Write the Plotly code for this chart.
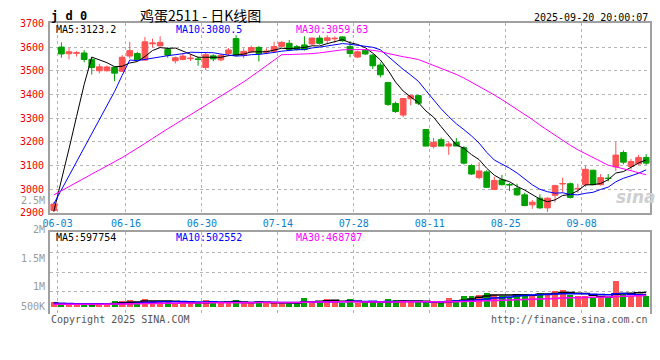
import plotly.graph_objects as go
import pandas as pd

# ---------------- data ----------------
dates = pd.bdate_range("2025-06-03", "2025-09-19").strftime("%m-%d").tolist()

opens = [2910, 3600, 3572, 3574, 3575, 3548, 3500, 3500, 3514, 3498,
         3562, 3573, 3545, 3614, 3605, 3590, 3542, 3548, 3551, 3550,
         3514, 3563, 3546, 3573, 3636, 3565, 3580, 3598, 3578, 3582,
         3603, 3616, 3602, 3609, 3613, 3638, 3628, 3635, 3643, 3602,
         3558, 3585, 3566, 3524, 3450, 3362, 3313, 3382, 3395, 3252,
         3180, 3209, 3182, 3198, 3175, 3100, 3049, 3073, 2999, 3039,
         3020, 3003, 2976, 2934, 2962, 2921, 2974, 3022, 3023, 3001,
         3019, 3080, 3019, 3047, 3094, 3155, 3096, 3107, 3134]
highs = [2945, 3620, 3596, 3583, 3587, 3557, 3530, 3522, 3518, 3566,
         3622, 3580, 3643, 3636, 3646, 3600, 3560, 3575, 3569, 3560,
         3575, 3570, 3570, 3596, 3650, 3595, 3606, 3605, 3595, 3623,
         3625, 3630, 3609, 3646, 3641, 3650, 3650, 3645, 3646, 3625,
         3585, 3592, 3570, 3535, 3453, 3370, 3385, 3400, 3398, 3252,
         3216, 3218, 3202, 3216, 3182, 3105, 3114, 3080, 3053, 3060,
         3026, 3023, 2985, 2955, 2978, 2965, 3019, 3049, 3028, 3023,
         3100, 3082, 3064, 3064, 3199, 3164, 3128, 3145, 3148]
lows = [2905, 3555, 3548, 3560, 3536, 3484, 3489, 3497, 3456, 3495,
        3552, 3543, 3542, 3598, 3603, 3555, 3531, 3544, 3541, 3521,
        3503, 3540, 3540, 3563, 3560, 3553, 3575, 3539, 3570, 3575,
        3598, 3583, 3585, 3585, 3610, 3610, 3612, 3618, 3622, 3557,
        3553, 3566, 3507, 3472, 3352, 3322, 3304, 3354, 3355, 3182,
        3172, 3182, 3145, 3182, 3105, 3060, 3042, 3006, 2996, 3015,
        2992, 2972, 2928, 2917, 2917, 2904, 2945, 2985, 2961, 2985,
        3010, 3017, 3015, 3033, 3077, 3105, 3083, 3103, 3103]
closes = [2937, 3571, 3580, 3576, 3548, 3514, 3517, 3516, 3490, 3557,
          3585, 3546, 3622, 3617, 3620, 3566, 3555, 3562, 3553, 3548,
          3568, 3550, 3565, 3588, 3566, 3582, 3598, 3572, 3583, 3602,
          3620, 3589, 3590, 3590, 3638, 3616, 3639, 3637, 3627, 3573,
          3580, 3571, 3521, 3483, 3358, 3328, 3383, 3395, 3363, 3182,
          3198, 3182, 3191, 3182, 3110, 3064, 3077, 3008, 3037, 3019,
          3018, 2976, 2931, 2945, 2921, 2962, 3015, 3024, 2965, 3003,
          3084, 3019, 3049, 3045, 3144, 3114, 3117, 3134, 3110]
volumes = [197000, 90000, 92000, 88000, 91000, 157000, 158000, 90000, 236000, 238000,
           275000, 197000, 314000, 236000, 235000, 237000, 157000, 156000, 158000, 157000,
           275000, 236000, 157000, 197000, 275000, 157000, 158000, 236000, 157000, 156000,
           157000, 197000, 158000, 354000, 236000, 237000, 314000, 236000, 157000, 314000,
           157000, 158000, 236000, 157000, 314000, 275000, 276000, 197000, 196000, 236000,
           157000, 158000, 354000, 275000, 432000, 433000, 511000, 590000, 511000, 432000,
           431000, 550000, 551000, 472000, 590000, 511000, 668000, 707000, 511000, 432000,
           433000, 354000, 432000, 354000, 1061000, 550000, 432000, 511000, 432000]

# closes / volumes of the sessions just before the window (only feed the moving averages)
prior_closes = [3030, 3025, 3035, 3020, 3010, 3015, 3005, 2995, 3000, 2990,
                2985, 2992, 2980, 2975, 2983, 2970, 2978, 2965, 2972, 2961,
                2985, 2978, 2970, 2962, 2955, 2925, 2905, 2890, 2873]
prior_volumes = [95000, 102000, 88000, 110000, 97000, 91000, 105000, 99000, 93000, 101000,
                 96000, 104000, 90000, 98000, 100000, 94000, 103000, 97000, 99000, 107000,
                 150000, 158000, 146000, 155000, 149000, 160000, 152000, 147000, 156000]

tick_labels = ["06-03", "06-16", "06-30", "07-14", "07-28", "08-11", "08-25", "09-08"]
price_ticks = [2900, 3000, 3100, 3200, 3300, 3400, 3500, 3600, 3700]
vol_labels = ["2.5M", "2M", "1.5M", "1M", "500K"]

title_text = "鸡蛋2511 - 日K线图"
symbol_text = "j d 0"
stamp_text = "2025-09-20 20:00:07"
price_ma_text = ["MA5:3123.2", "MA10:3080.5", "MA30:3059.63"]
vol_ma_text = ["MA5:597754", "MA10:502552", "MA30:468787"]

# ---------------- styling ----------------
RED = "#ff5252"
GREEN = "#00a000"
MA_COLORS = ["#000000", "#0000ff", "#ff00ff"]
FRAME = "#a0a0a0"
GRID = "#b4b4b4"
MONO = "DejaVu Sans Mono"
W, H = 660, 360
L_PX, R_PX = 50, 650


def py(p):  # pixel row -> paper y
    return 1 - p / H


def px(p):  # pixel column -> paper x
    return (p - L_PX) / (R_PX - L_PX)


def moving_avg(prior, vals, n):
    allv = list(prior) + list(vals)
    off = len(prior)
    out = []
    for i in range(len(vals)):
        w = allv[off + i - n + 1: off + i + 1]
        out.append(sum(w) / len(w))
    return out


xs = list(range(len(dates)))
fig = go.Figure()

fig.add_trace(go.Candlestick(
    x=xs, open=opens, high=highs, low=lows, close=closes,
    increasing=dict(line=dict(color=RED, width=1), fillcolor=RED),
    decreasing=dict(line=dict(color=GREEN, width=1), fillcolor=GREEN),
    whiskerwidth=0, xaxis="x", yaxis="y", showlegend=False, hoverinfo="skip"))

for n, col in zip([5, 10, 30], MA_COLORS):
    fig.add_trace(go.Scatter(x=xs, y=moving_avg(prior_closes, closes, n), mode="lines",
                             line=dict(color=col, width=1), xaxis="x", yaxis="y",
                             showlegend=False, hoverinfo="skip"))

vol_colors = [RED if c >= o else GREEN for o, c in zip(opens, closes)]
fig.add_trace(go.Bar(x=xs, y=volumes, marker=dict(color=vol_colors, line=dict(width=0)),
                     width=0.78, xaxis="x2", yaxis="y2", showlegend=False, hoverinfo="skip"))
for n, col in zip([5, 10, 30], MA_COLORS):
    fig.add_trace(go.Scatter(x=xs, y=moving_avg(prior_volumes, volumes, n), mode="lines",
                             line=dict(color=col, width=1.5, shape="hvh"), xaxis="x2", yaxis="y2",
                             showlegend=False, hoverinfo="skip"))

tick_pos = [dates.index(t) + 0.5 for t in tick_labels]

# volume panel geometry (pixel rows)
V_TOP, V_BOT, V_BASE, V_PER_PX = 234.3, 319.0, 311.5, 39300.0
v_hi = (V_BASE - V_TOP) * V_PER_PX
v_lo = -(V_BOT - V_BASE) * V_PER_PX
v_grid = [(V_BASE - r) * V_PER_PX for r in (255.3, 275.3, 295.3)]

common_x = dict(range=[-0.5, len(xs) - 0.5], tickvals=tick_pos, showgrid=True,
                gridcolor=GRID, griddash="dot", gridwidth=1, zeroline=False, ticks="",
                fixedrange=True)

fig.update_layout(
    width=W, height=H, margin=dict(l=L_PX, r=W - R_PX, t=0, b=0),
    paper_bgcolor="white", plot_bgcolor="white", bargap=0, showlegend=False,
    boxgap=0.2, boxgroupgap=0.06,
    xaxis=dict(**common_x, domain=[0, 1], anchor="y", ticktext=tick_labels,
               tickfont=dict(family=MONO, size=10, color="#0a7fcf"),
               showline=True, mirror=True, linecolor=FRAME, linewidth=2,
               rangeslider=dict(visible=False)),
    yaxis=dict(domain=[py(214), py(18)], range=[price_ticks[0], price_ticks[-1]],
               tickvals=price_ticks, ticktext=[str(v) for v in price_ticks],
               tickfont=dict(family=MONO, size=10, color="#ee0000"),
               showgrid=True, gridcolor=GRID, griddash="dot", zeroline=False,
               showline=True, mirror=True, linecolor=FRAME, linewidth=2, ticks="",
               ticklabelstandoff=2, anchor="x"),
    xaxis2=dict(**common_x, domain=[0, 1], anchor="y2", matches="x", showticklabels=False,
                showline=True, side="top", linecolor=FRAME, linewidth=2),
    yaxis2=dict(domain=[py(V_BOT), py(V_TOP)], range=[v_lo, v_hi], tickvals=v_grid,
                showticklabels=False, showgrid=True, gridcolor=GRID, griddash="dot",
                zeroline=False, showline=True, mirror=True, linecolor=FRAME, linewidth=2,
                ticks="", anchor="x2"),
)

ann = []
def text(x, y, s, color="#000000", size=10, anchor="left", family=MONO, **kw):
    ann.append(dict(x=px(x), y=py(y), xref="paper", yref="paper", text=s, showarrow=False,
                    xanchor=anchor, yanchor="middle", borderpad=0,
                    font=dict(family=family, size=size, color=color, **kw)))

text(50, 10.5, symbol_text, size=12, weight="bold")
text(200, 9.5, title_text, size=14, anchor="center", family="Noto Sans CJK SC")
text(649, 12, stamp_text, anchor="right")
for s, col, x in zip(price_ma_text, MA_COLORS, [55, 175, 295]):
    text(x, 24.5, s, color=col)
for s, col, x in zip(vol_ma_text, MA_COLORS, [55, 175, 295]):
    text(x, 239, s, color=col)
for s, y in zip(vol_labels, [201, 231, 261, 290.5, 310.5]):
    text(46, y, s, color="#9a9a9a", anchor="right")
text(50, 324, "Copyright 2025 SINA.COM", color="#555555")
text(649, 324, "http://finance.sina.com.cn", color="#555555", anchor="right")
text(636, 198, "sina", color="#cfcfcf", size=17, anchor="center", family="DejaVu Sans",
     weight="bold", style="italic")
fig.update_layout(annotations=ann)

fig.write_html("out.html", config={"displayModeBar": False, "staticPlot": True})
